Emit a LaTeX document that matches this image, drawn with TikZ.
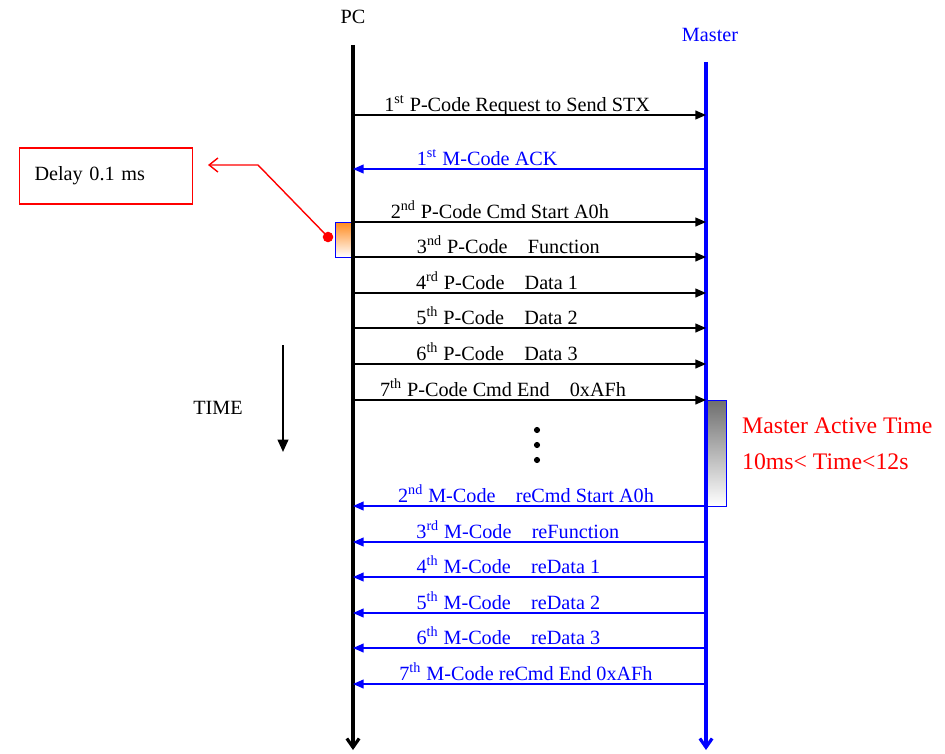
\documentclass[tikz,border=0pt]{standalone}
\usepackage{fontspec}
\setmainfont{Liberation Serif}
\usepackage{xcolor}
\usepackage{tikz}
\usetikzlibrary{arrows.meta,positioning,calc}
\definecolor{mastblue}{HTML}{0000FF}
\definecolor{notered}{HTML}{FF0000}
\definecolor{delayorange}{HTML}{FF8A1E}
\definecolor{activegray}{HTML}{6E6E6E}

\begin{document}
\begin{tikzpicture}[
  x=0.02cm, y=-0.02cm,
  every node/.style={font=\fontsize{11.5}{14}\selectfont},
  lifeline/.style={line width=1.8pt, -{Straight Barb[length=5pt, width=7pt]}},
  pmsg/.style={line width=0.8pt, black, -{Triangle[length=6pt, width=5pt]}},
  mmsg/.style={line width=0.8pt, mastblue, -{Triangle[length=6pt, width=5pt]}},
  msglabel/.style={anchor=base, yshift=2pt, inner sep=0pt},
  delaybox/.style={rectangle, draw=notered, line width=0.8pt, inner xsep=0.3cm, text width=2.86cm, align=left, minimum height=56*0.02cm},
  vdot/.style={circle, fill=black, inner sep=0pt, minimum size=3.5pt},
]
  \useasboundingbox (0,0) rectangle (945,753);

  % headers
  \node (pc) at (353,17) {PC};
  \node[text=mastblue] (master) at (710,35) {Master};

  % activity boxes (below the lifelines)
  \filldraw[draw=mastblue, top color=delayorange, bottom color=white] (335,222) rectangle (353,257);
  \filldraw[draw=mastblue, top color=activegray, bottom color=white] (704,400) rectangle (726,506);

  % lifelines
  \coordinate (pctop) at (353,45);
  \coordinate (pcbot) at (353,750);
  \coordinate (mtop) at (706,62);
  \coordinate (mbot) at (706,750);
  \draw[lifeline, black] (pctop) -- (pcbot);
  \draw[lifeline, mastblue] (mtop) -- (mbot);

  % message ends
  \coordinate (p1) at (353,115);  \coordinate (m1) at (706,115);
  \coordinate (p2) at (353,169);  \coordinate (m2) at (706,169);
  \coordinate (p3) at (353,222);  \coordinate (m3) at (706,222);
  \coordinate (p4) at (353,257);  \coordinate (m4) at (706,257);
  \coordinate (p5) at (353,293);  \coordinate (m5) at (706,293);
  \coordinate (p6) at (353,328);  \coordinate (m6) at (706,328);
  \coordinate (p7) at (353,364);  \coordinate (m7) at (706,364);
  \coordinate (p8) at (353,400);  \coordinate (m8) at (706,400);
  \coordinate (p9) at (353,506);  \coordinate (m9) at (706,506);
  \coordinate (p10) at (353,542); \coordinate (m10) at (706,542);
  \coordinate (p11) at (353,577); \coordinate (m11) at (706,577);
  \coordinate (p12) at (353,613); \coordinate (m12) at (706,613);
  \coordinate (p13) at (353,648); \coordinate (m13) at (706,648);
  \coordinate (p14) at (353,684); \coordinate (m14) at (706,684);

  % PC -> Master
  \draw[pmsg] (p1) -- node[msglabel, pos=.465] {1\textsuperscript{st} P-Code Request to Send STX} (m1);
  \draw[mmsg] (m2) -- node[msglabel, pos=.62, text=mastblue] {1\textsuperscript{st} M-Code ACK} (p2);
  \draw[pmsg] (p3) -- node[msglabel, pos=.416] {2\textsuperscript{nd} P-Code Cmd Start A0h} (m3);
  \draw[pmsg] (p4) -- node[msglabel, pos=.44] {3\textsuperscript{nd} P-Code\quad Function} (m4);
  \draw[pmsg] (p5) -- node[msglabel, pos=.408] {4\textsuperscript{rd} P-Code\quad Data 1} (m5);
  \draw[pmsg] (p6) -- node[msglabel, pos=.408] {5\textsuperscript{th} P-Code\quad Data 2} (m6);
  \draw[pmsg] (p7) -- node[msglabel, pos=.408] {6\textsuperscript{th} P-Code\quad Data 3} (m7);
  \draw[pmsg] (p8) -- node[msglabel, pos=.425] {7\textsuperscript{th} P-Code Cmd End\quad 0xAFh} (m8);

  \node[vdot] (d1) at (537,430) {};
  \node[vdot] (d2) at (537,445) {};
  \node[vdot] (d3) at (537,460) {};

  % Master -> PC
  \draw[mmsg] (m9) -- node[msglabel, pos=.51, text=mastblue] {2\textsuperscript{nd} M-Code\quad reCmd Start A0h} (p9);
  \draw[mmsg] (m10) -- node[msglabel, pos=.533, text=mastblue] {3\textsuperscript{rd} M-Code\quad reFunction} (p10);
  \draw[mmsg] (m11) -- node[msglabel, pos=.56, text=mastblue] {4\textsuperscript{th} M-Code\quad reData 1} (p11);
  \draw[mmsg] (m12) -- node[msglabel, pos=.56, text=mastblue] {5\textsuperscript{th} M-Code\quad reData 2} (p12);
  \draw[mmsg] (m13) -- node[msglabel, pos=.56, text=mastblue] {6\textsuperscript{th} M-Code\quad reData 3} (p13);
  \draw[mmsg] (m14) -- node[msglabel, pos=.51, text=mastblue] {7\textsuperscript{th} M-Code reCmd End 0xAFh} (p14);

  % delay note
  \node[delaybox] (delay) at (106,176) {Delay 0.1 ms};
  \node[circle, fill=notered, inner sep=0pt, minimum size=6pt] (dly) at (328,237) {};
  \coordinate (dlybend) at (258,165);
  \coordinate (dlytip) at (208,165);
  \draw[notered, line width=0.8pt, -{Straight Barb[length=5pt, width=8pt]}] (dly.center) -- (dlybend) -- (dlytip);

  % master active time
  \node[text=notered, anchor=west, font=\fontsize{13.5}{16}\selectfont] (act1) at (736,426) {Master Active Time};
  \node[text=notered, anchor=west, font=\fontsize{13.5}{16}\selectfont] (act2) at (736,462) {10ms< Time<12s};

  % time axis
  \node (time) at (218,408) {TIME};
  \coordinate (ttop) at (283,345);
  \coordinate (tbot) at (283,452);
  \draw[line width=1.2pt, -{Triangle[length=7pt, width=6pt]}] (ttop) -- (tbot);
\end{tikzpicture}
\end{document}
